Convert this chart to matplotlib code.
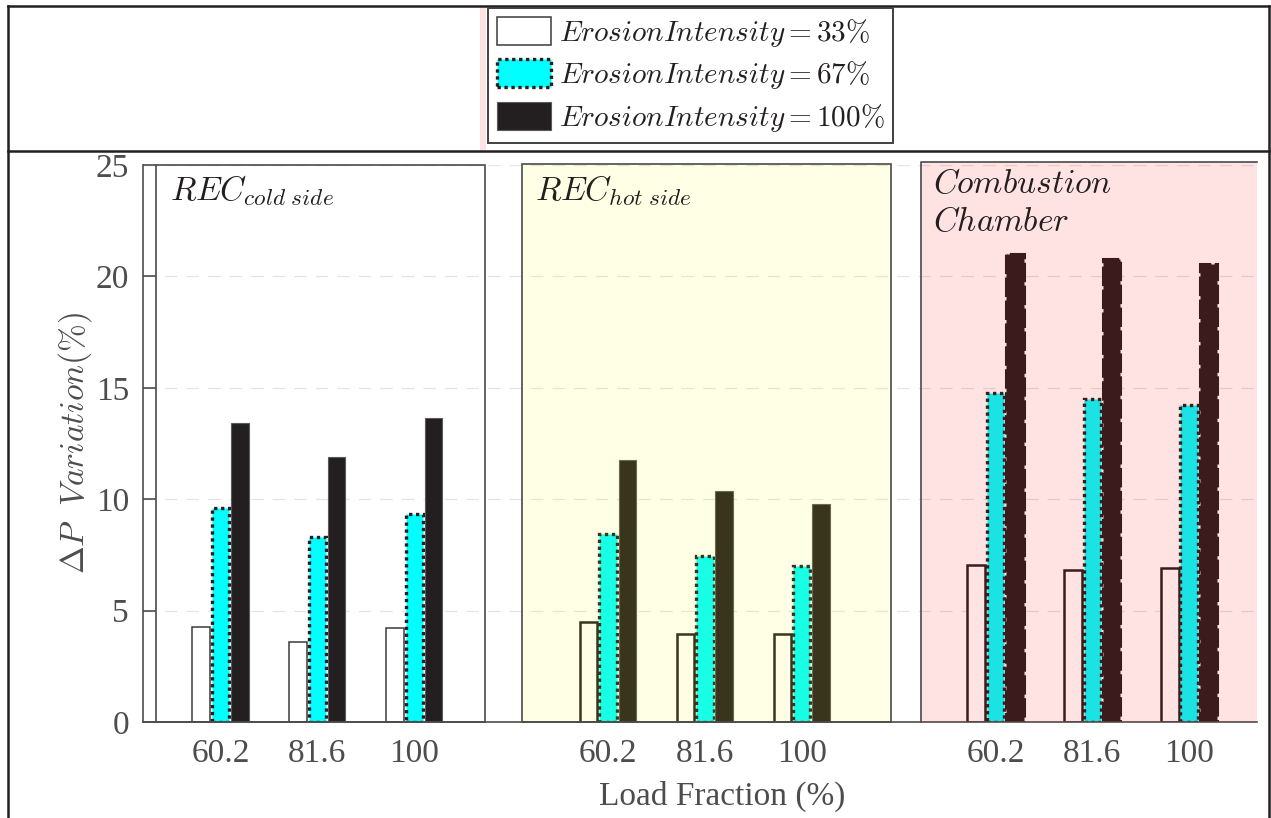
import matplotlib
matplotlib.use("Agg")
import matplotlib.pyplot as plt
from matplotlib.patches import Rectangle
from matplotlib.lines import Line2D

# ---- data -------------------------------------------------------------
load_labels = ["60.2", "81.6", "100"]
series_labels = [r"$ErosionIntensity = 33\%$",
                 r"$ErosionIntensity = 67\%$",
                 r"$ErosionIntensity = 100\%$"]
panel_titles = [r"$REC_{cold\ side}$", r"$REC_{hot\ side}$", None]

rec_cold_33 = [4.25, 3.6, 4.2]
rec_cold_67 = [9.6, 8.3, 9.35]
rec_cold_100 = [13.4, 11.9, 13.65]

rec_hot_33 = [4.5, 3.95, 3.95]
rec_hot_67 = [8.45, 7.45, 7.0]
rec_hot_100 = [11.75, 10.35, 9.8]

cc_33 = [7.05, 6.8, 6.9]
cc_67 = [14.75, 14.5, 14.25]
cc_100 = [21.0, 20.8, 20.55]

panels = [
    [rec_cold_33, rec_cold_67, rec_cold_100],
    [rec_hot_33, rec_hot_67, rec_hot_100],
    [cc_33, cc_67, cc_100],
]

# ---- style ------------------------------------------------------------
plt.rcParams["font.family"] = ["Liberation Serif", "DejaVu Serif"]
plt.rcParams["mathtext.fontset"] = "cm"
plt.rcParams["lines.scale_dashes"] = False

INK = "#231F20"
GREY = "#4d4d4d"
CYAN = "#00FFFF"

W, H = 1271, 818
fig = plt.figure(figsize=(W / 100, H / 100), dpi=100)
fig.patch.set_facecolor("white")

ax = fig.add_axes([143 / W, 1 - 722 / H, (1257 - 143) / W, (722 - 165) / H])
ax.set_xlim(-0.80, 10.70)
ax.set_ylim(0, 25)
ax.set_yticks([0, 5, 10, 15, 20, 25])
ax.yaxis.grid(True, color="#E4E4E4", linestyle=(0, (9, 6.5)), linewidth=0.9)
ax.set_axisbelow(True)
for side in ("top", "right"):
    ax.spines[side].set_visible(False)
for side in ("left", "bottom"):
    ax.spines[side].set_color(GREY)
    ax.spines[side].set_linewidth(1.2)
ax.tick_params(axis="y", direction="in", length=9.4, width=1.2, color=GREY,
               labelsize=24, labelcolor=GREY, pad=10)
ax.tick_params(axis="x", length=0, labelsize=24, labelcolor=GREY, pad=12)

offsets = [-0.2, 0.0, 0.2]
width = 0.18
dotted = (0, (2.4, 2.6))
dashed = (0, (14, 2.5))

group_pos = []
legend_handles = []
for p, series in enumerate(panels):
    base = [4 * p + i for i in range(len(load_labels))]
    group_pos += base
    for s, vals in enumerate(series):
        x = [b + offsets[s] for b in base]
        if s == 0:
            kw = dict(facecolor="white", edgecolor=INK if p else "#3a3a3a",
                      linewidth=1.8 if p else 1.1)
        elif s == 1:
            kw = dict(facecolor=CYAN, edgecolor=INK, linewidth=2.4,
                      linestyle=dotted)
        else:
            if p == 2:
                kw = dict(facecolor=INK, edgecolor=INK, linewidth=2.2,
                          linestyle=dashed)
            else:
                kw = dict(facecolor=INK, edgecolor="#5a5a5a", linewidth=0.8)
        bars = ax.bar(x, vals, width=width, zorder=2, label=series_labels[s], **kw)
        if p == 0:
            legend_handles.append(bars)

ax.set_xticks(group_pos)
ax.set_xticklabels(load_labels * 3)

# ---- component panels -------------------------------------------------
edge = "#4a4a4a"
ax.add_patch(Rectangle((-0.666, 0), 3.397, 25.0, facecolor="none",
                       edgecolor=edge, linewidth=1.2, zorder=3, clip_on=False))
ax.add_patch(Rectangle((3.116, 0), 3.807, 25.05, facecolor=(1, 1, 0, 0.10),
                       edgecolor=edge, linewidth=1.2, zorder=3, clip_on=False))
ax.add_patch(Rectangle((7.23, 0), 10.70 - 7.23, 25.12, facecolor=(1, 0, 0, 0.11),
                       edgecolor="none", zorder=3, clip_on=False))
ax.plot([7.23, 7.23, 10.70], [0, 25.12, 25.12], color=edge, linewidth=1.2,
        zorder=3, clip_on=False)

ax.text(-0.52, 23.4, panel_titles[0], fontsize=24, color=INK, zorder=4)
ax.text(3.25, 23.43, panel_titles[1], fontsize=24, color=INK, zorder=4)
ax.text(7.36, 23.76, r"$Combustion$", fontsize=24, color=INK, zorder=4)
ax.text(7.36, 22.04, r"$Chamber$", fontsize=24, color=INK, zorder=4)

# ---- axis titles ------------------------------------------------------
fig.text(75 / W, 1 - 443 / H, r"$\Delta P\ \ Variation(\%)$", rotation=90,
         ha="center", va="center", fontsize=24, color=GREY)
fig.text(722 / W, 1 - 796 / H, "Load Fraction (%)", ha="center", va="center",
         fontsize=24, color=GREY)

# ---- header frame and legend -----------------------------------------
tf = fig.transFigure
fig.add_artist(Rectangle((480 / W, 1 - 150 / H), 6 / W, 144 / H,
                         facecolor="#FDE3E3", edgecolor="none", transform=tf))
for xs, ys in [([8 / W, 8 / W], [0, 1 - 6 / H]),
               ([1269 / W, 1269 / W], [0, 1 - 6 / H]),
               ([8 / W, 1269 / W], [1 - 6 / H, 1 - 6 / H]),
               ([8 / W, 1269 / W], [1 - 151 / H, 1 - 151 / H])]:
    fig.add_artist(Line2D(xs, ys, color=INK, linewidth=1.8, transform=tf))

lfs = 21
px = lfs * 100 / 72
leg = fig.legend(handles=legend_handles, labels=series_labels,
                 loc="upper left", bbox_to_anchor=(488 / W, 1 - 8 / H),
                 bbox_transform=tf, borderaxespad=0, fontsize=lfs,
                 handlelength=54 / px, handleheight=32 / px,
                 handletextpad=8 / px, labelspacing=0.36, borderpad=0.3,
                 fancybox=False, frameon=True, edgecolor="#404040",
                 framealpha=1)
leg.get_frame().set_linewidth(1.4)
for t in leg.get_texts():
    t.set_color(INK)

fig.savefig("out.png", dpi=100)
